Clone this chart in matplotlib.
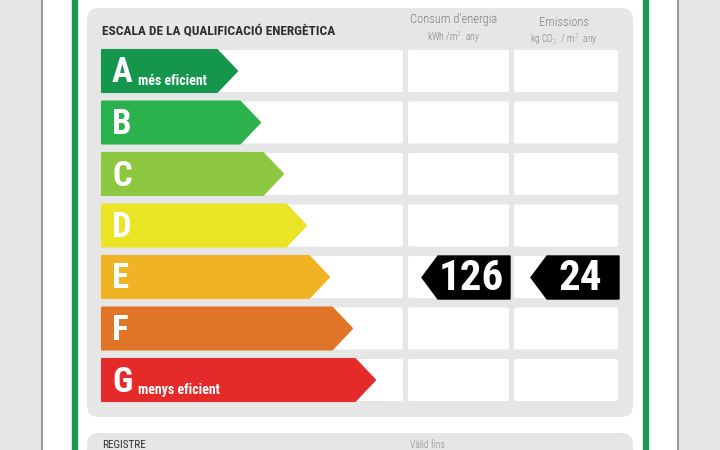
import matplotlib
matplotlib.use("Agg")
import matplotlib.pyplot as plt
from matplotlib.patches import Polygon, Rectangle, FancyBboxPatch

# energy classes, top (best) to bottom (worst)
classes = ["A", "B", "C", "D", "E", "F", "G"]
class_colors = ["#15964d", "#2bb24c", "#8dc63f", "#e9e524", "#f0b323", "#e07528", "#e42b29"]
class_notes = {"A": "més eficient", "G": "menys eficient"}

title = "ESCALA DE LA QUALIFICACIÓ ENERGÈTICA"
col_titles = ["Consum d'energia", "Emissions"]
col_units = ["kWh /m$^2$  any", "kg CO$_2$  / m$^2$  any"]

rating = "E"
consum_value = 126
emission_value = 24

W, H = 720, 450
fig = plt.figure(figsize=(7.2, 4.5), dpi=100)
ax = fig.add_axes([0, 0, 1, 1])
ax.set_xlim(0, W)
ax.set_ylim(H, 0)
ax.axis("off")

COND = ["Roboto Condensed", "IBM Plex Sans Condensed", "DejaVu Sans"]
plt.rcParams["mathtext.fontset"] = "custom"
plt.rcParams["mathtext.rm"] = "IBM Plex Sans Condensed:light"

# page background
ax.add_patch(Rectangle((0, 0), W, H, color="#e6e6e6", zorder=0))
ax.add_patch(Rectangle((42, -2), 636, H + 4, facecolor="white", edgecolor="#8a8a8a", lw=1.2, zorder=0.5))
ax.add_patch(Rectangle((72, 0), 5, H, color="#17994f", zorder=1))
ax.add_patch(Rectangle((643, 0), 5, H, color="#17994f", zorder=1))

# grey panels
ax.add_patch(FancyBboxPatch((87, 8), 546, 409, boxstyle="round,pad=0,rounding_size=12",
                            fc="#e6e6e6", ec="none", zorder=1))
ax.add_patch(FancyBboxPatch((87, 433), 546, 40, boxstyle="round,pad=0,rounding_size=12",
                            fc="#e6e6e6", ec="none", zorder=1))
ax.text(102, 445, "REGISTRE", fontsize=8, color="#333333", va="center", family=COND)
ax.text(410, 445, "Vàlid fins", fontsize=7, color="#888888", va="center", family=COND,
        fontweight="light")

# headers
ax.text(102, 31, title, fontsize=9.6, fontweight="bold", color="#2d2d2d", va="center", family=COND)
col_cx = [454, 564]
ax.text(col_cx[0], 20, col_titles[0], fontsize=9, color="#808080", ha="center", va="center",
        family=COND, fontweight="light")
ax.text(col_cx[0], 37, col_units[0], fontsize=7, color="#808080", ha="center", va="center",
        family=COND, fontweight="light")
ax.text(col_cx[1], 22, col_titles[1], fontsize=9, color="#808080", ha="center", va="center",
        family=COND, fontweight="light")
ax.text(col_cx[1], 39, col_units[1], fontsize=7, color="#808080", ha="center", va="center",
        family=COND, fontweight="light")

row_top0, pitch, row_h = 50, 51.5, 42
cells = [(102, 403), (408, 509), (514, 618)]

for i, (cls, col) in enumerate(zip(classes, class_colors)):
    y0 = row_top0 + i * pitch
    y1 = y0 + row_h
    for cx0, cx1 in cells:
        ax.add_patch(FancyBboxPatch((cx0, y0), cx1 - cx0, row_h,
                                    boxstyle="round,pad=0,rounding_size=2",
                                    fc="white", ec="none", zorder=2))
    tip = 237 + 23 * i
    pts = [(102, y0), (tip - 20, y0), (tip, (y0 + y1) / 2), (tip - 20, y1), (102, y1)]
    ax.add_patch(Polygon(pts, closed=True, fc=col, ec=col, lw=1.5, joinstyle="round", zorder=3))
    ax.text(112, (y0 + y1) / 2 + 2, cls, fontsize=25, fontweight="bold", color="white",
            va="center", ha="left", zorder=4, family=COND)
    if cls in class_notes:
        ax.text(138, y1 - 11, class_notes[cls], fontsize=10, fontweight="bold", color="white",
                va="center", ha="left", zorder=4, family=COND)

    if cls == rating:
        for (cx0, cx1), val in zip(cells[1:], [consum_value, emission_value]):
            right = cx1 + 1
            if val == consum_value:
                tip_x = cx0 + 14
            else:
                tip_x = cx0 + 17
            tag = [(tip_x + 16, y0), (right, y0), (right, y1 + 1), (tip_x + 16, y1 + 1),
                   (tip_x, (y0 + y1 + 1) / 2)]
            ax.add_patch(Polygon(tag, closed=True, fc="black", ec="black", lw=1, zorder=5))
            ax.text((tip_x + 16 + right) / 2 - 3, (y0 + y1) / 2 + 1, str(val), fontsize=31,
                    fontweight="bold", color="white", ha="center", va="center", zorder=6, family=COND)

fig.savefig("out.png", dpi=100)
